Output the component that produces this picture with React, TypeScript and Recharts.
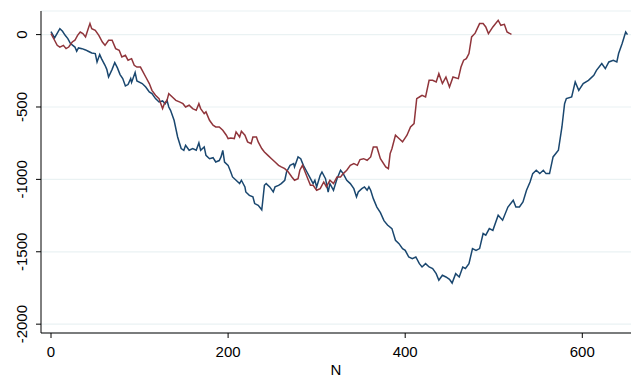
import { LineChart, Line, XAxis, YAxis, CartesianGrid } from "recharts";

// blue series (N, value)
const blueN = [
  0, 4, 10, 13, 16, 19, 22, 27, 29, 31, 35, 39, 42, 46, 50, 52, 55, 57, 61, 63, 65, 69, 72, 75, 78, 81, 84, 87,
  90, 91, 95, 97, 103, 107, 111, 114, 118, 122, 126, 129, 131, 133, 135, 139, 143, 147, 150, 152, 156, 160,
  164, 167, 169, 173, 175, 179, 183, 186, 190, 192, 194, 196, 200, 203, 205, 209, 213, 215, 219, 220, 224,
  228, 230, 234, 238, 239, 241, 243, 247, 251, 253, 257, 260, 264, 266, 270, 274, 275, 279, 282, 285, 288,
  292, 296, 298, 300, 304, 306, 310, 313, 315, 319, 323, 327, 330, 334, 338, 342, 345, 347, 351, 354, 357,
  359, 361, 364, 368, 372, 376, 380, 385, 389, 393, 397, 400, 404, 408, 412, 416, 419, 423, 427, 431, 435,
  438, 442, 446, 450, 453, 457, 461, 465, 468, 472, 476, 480, 484, 488, 491, 495, 499, 505, 510, 516, 522,
  525, 529, 533, 537, 541, 544, 548, 552, 556, 559, 563, 567, 573, 577, 580, 582, 588, 592, 596, 601, 607,
  613, 616, 622, 626, 630, 635, 639, 641, 645, 649, 651,
];
const blueV = [
  20, -23, 41, 23, -5, -28, -62, -86, -115, -92, -97, -106, -115, -127, -131, -189, -138, -166, -212, -240,
  -293, -240, -193, -230, -276, -304, -355, -345, -304, -330, -262, -320, -338, -362, -396, -408, -442, -465,
  -458, -477, -454, -500, -523, -592, -707, -787, -799, -765, -799, -787, -799, -748, -799, -776, -834, -857,
  -850, -880, -870, -845, -800, -880, -903, -949, -983, -1006, -1029, -1006, -1052, -1087, -1110, -1121,
  -1167, -1179, -1210, -1156, -1041, -1029, -1052, -1087, -1052, -1041, -1029, -1006, -949, -903, -891,
  -914, -845, -857, -903, -937, -983, -1029, -1006, -1052, -972, -949, -995, -1087, -1029, -1075, -995, -937,
  -960, -1006, -1029, -1064, -1121, -1087, -1064, -1052, -1075, -1052, -1075, -1133, -1191, -1230, -1285,
  -1315, -1340, -1421, -1444, -1478, -1490, -1536, -1547, -1536, -1582, -1605, -1582, -1605, -1616, -1651,
  -1697, -1662, -1674, -1690, -1716, -1651, -1674, -1605, -1615, -1582, -1478, -1490, -1478, -1374, -1385,
  -1340, -1352, -1248, -1282, -1191, -1144, -1191, -1191, -1156, -1075, -1018, -960, -937, -960, -937, -960,
  -960, -845, -799, -638, -477, -442, -431, -327, -385, -338, -316, -281, -247, -200, -235, -189, -177, -189,
  -131, -62, 18, 0,
];

// red series (N, value)
const redN = [
  0, 4, 7, 10, 14, 17, 20, 24, 27, 30, 33, 36, 39, 42, 44, 46, 50, 54, 58, 61, 65, 69, 73, 77, 80, 84, 87, 91,
  94, 97, 101, 103, 107, 111, 114, 118, 122, 124, 126, 128, 131, 133, 137, 141, 145, 149, 152, 156, 160, 164,
  167, 169, 173, 175, 179, 183, 186, 190, 194, 198, 200, 203, 207, 209, 213, 215, 219, 222, 226, 228, 232,
  234, 238, 241, 245, 249, 253, 257, 260, 264, 268, 272, 275, 279, 281, 284, 287, 290, 293, 296, 300, 304,
  308, 311, 315, 319, 323, 327, 330, 334, 338, 342, 346, 349, 353, 357, 361, 364, 368, 372, 378, 381, 383,
  385, 389, 393, 397, 402, 406, 410, 413, 416, 419, 423, 427, 431, 435, 438, 442, 446, 450, 454, 460, 463,
  466, 469, 472, 475, 479, 484, 488, 491, 494, 499, 505, 508, 512, 515, 520,
];
const redV = [
  7, -39, -74, -86, -74, -97, -86, -51, -39, -5, 18, 7, -16, 41, 76, 41, 30, -5, -51, -74, -39, -39, -97, -108,
  -155, -143, -177, -166, -212, -224, -224, -247, -293, -338, -385, -419, -442, -477, -511, -477, -454, -408,
  -431, -454, -465, -477, -500, -488, -511, -523, -477, -511, -546, -534, -592, -626, -638, -638, -661, -695,
  -718, -714, -718, -672, -707, -668, -695, -741, -753, -707, -707, -741, -787, -811, -834, -857, -880, -903,
  -914, -926, -949, -983, -1006, -995, -937, -903, -949, -995, -1041, -1041, -1075, -1064, -1018, -1052,
  -1006, -1029, -983, -983, -960, -937, -903, -891, -903, -863, -857, -868, -845, -776, -776, -857, -914,
  -926, -822, -788, -695, -718, -741, -695, -638, -615, -442, -431, -419, -431, -316, -316, -327, -270, -338,
  -293, -362, -293, -304, -224, -177, -166, -131, -16, 10, 76, 76, 53, 7, 53, 99, 64, 71, 18, 2,
];

const xTicks = [0, 200, 400, 600];
const yTicks = [0, -500, -1000, -1500, -2000];

const blueData = blueN.map((n, i) => ({ n, v: blueV[i] }));
const redData = redN.map((n, i) => ({ n, v: redV[i] }));

const FONT = "'Liberation Sans', Arial, sans-serif";

function YTick({ y, payload }: any) {
  return (
    <text
      x={0}
      y={0}
      transform={`translate(21, ${y}) rotate(-90)`}
      textAnchor="middle"
      dominantBaseline="central"
      fontSize={15}
      fontFamily={FONT}
      fill="#000"
    >
      {payload.value}
    </text>
  );
}

export default function App() {
  return (
    <div style={{ position: "absolute", left: 0, top: 0, background: "#fff" }}>
      <LineChart
        width={635}
        height={377}
        margin={{ top: 11, right: 4, bottom: 0, left: 0 }}
      >
        <CartesianGrid vertical={false} stroke="#eaf2f3" strokeWidth={1.2} />
        <XAxis
          type="number"
          dataKey="n"
          domain={[-11.3, 655]}
          ticks={xTicks}
          allowDataOverflow
          height={44}
          tickSize={5}
          tickMargin={8}
          stroke="#000"
          tick={{ fontSize: 15, fontFamily: FONT, fill: "#000" }}
          label={{ value: "N", position: "insideBottom", offset: 2, fontSize: 15, fontFamily: FONT, fill: "#000" }}
        />
        <YAxis
          type="number"
          dataKey="v"
          domain={[-2061, 163]}
          ticks={yTicks}
          allowDataOverflow
          width={41}
          tickSize={5}
          stroke="#000"
          tick={<YTick />}
        />
        <Line
          data={blueData}
          dataKey="v"
          type="linear"
          stroke="#1a476f"
          strokeWidth={1.5}
          dot={false}
          isAnimationActive={false}
        />
        <Line
          data={redData}
          dataKey="v"
          type="linear"
          stroke="#90353b"
          strokeWidth={1.5}
          dot={false}
          isAnimationActive={false}
        />
      </LineChart>
    </div>
  );
}
